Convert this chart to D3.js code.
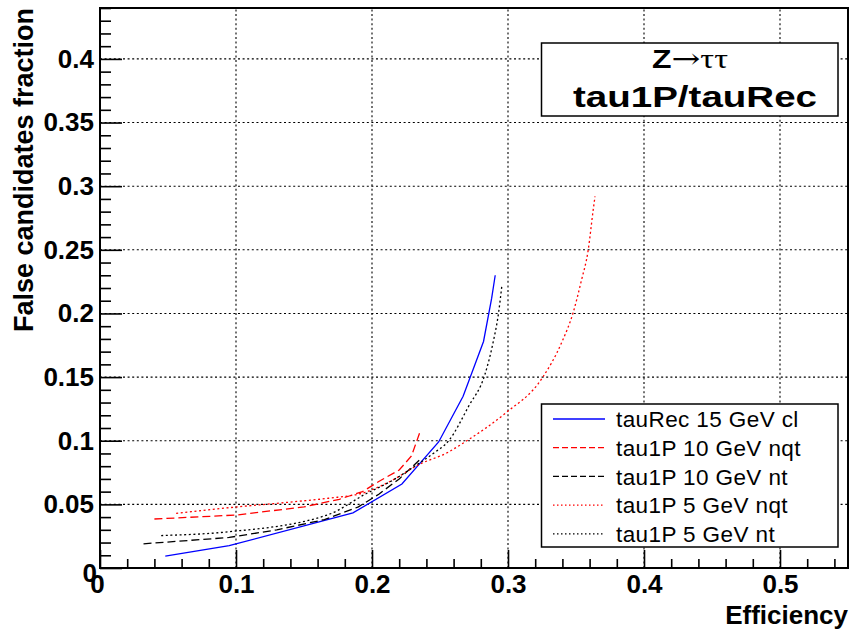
<!DOCTYPE html>
<html>
<head>
<meta charset="utf-8">
<script src="https://cdn.jsdelivr.net/npm/d3@7"></script>
<style>
  body { margin: 0; background: #fff; }
  svg { display: block; }
  text { font-family: "Liberation Sans", Arial, Helvetica, sans-serif; }
</style>
</head>
<body>
<svg id="chart" width="852" height="636"></svg>
<script>
// axis ticks
var xMajor = [0, 0.1, 0.2, 0.3, 0.4, 0.5];
var xLabels = ["0", "0.1", "0.2", "0.3", "0.4", "0.5"];
var yMajor = [0, 0.05, 0.1, 0.15, 0.2, 0.25, 0.3, 0.35, 0.4];
var yLabels = ["0", "0.05", "0.1", "0.15", "0.2", "0.25", "0.3", "0.35", "0.4"];

// curves: [efficiency, false candidates fraction]
var tauRec15cl = [[0.048, 0.0094], [0.095, 0.0175], [0.186, 0.0433], [0.222, 0.066],
    [0.249, 0.099], [0.267, 0.135], [0.282, 0.178], [0.288, 0.212], [0.2906, 0.230]];
var tau1P10nqt = [[0.040, 0.0385], [0.100, 0.0416], [0.150, 0.048], [0.176, 0.054],
    [0.193, 0.060], [0.205, 0.068], [0.220, 0.077], [0.229, 0.088], [0.235, 0.106]];
var tau1P10nt = [[0.032, 0.019], [0.095, 0.024], [0.130, 0.030], [0.165, 0.038],
    [0.190, 0.048], [0.205, 0.058], [0.220, 0.070], [0.236, 0.086]];
var tau1P5nqt = [[0.056, 0.043], [0.095, 0.0474], [0.147, 0.0525], [0.168, 0.0548],
    [0.195, 0.0595], [0.215, 0.069], [0.234, 0.081], [0.256, 0.091], [0.269, 0.0995],
    [0.298, 0.1216], [0.325, 0.149], [0.3394, 0.177], [0.348, 0.201], [0.354, 0.226],
    [0.359, 0.25], [0.3626, 0.281], [0.364, 0.292]];
var tau1P5nt = [[0.045, 0.0255], [0.095, 0.0285], [0.168, 0.042], [0.195, 0.058],
    [0.217, 0.070], [0.230, 0.079], [0.245, 0.090], [0.2564, 0.100], [0.271, 0.127],
    [0.283, 0.152], [0.289, 0.177], [0.293, 0.200], [0.2955, 0.222]];

var seriesNames = ["tauRec 15 GeV cl", "tau1P 10 GeV nqt", "tau1P 10 GeV nt",
    "tau1P 5 GeV nqt", "tau1P 5 GeV nt"];
var seriesData = [tauRec15cl, tau1P10nqt, tau1P10nt, tau1P5nqt, tau1P5nt];
var seriesColor = ["#0000ff", "#ff0000", "#000000", "#ff0000", "#000000"];
var seriesDash = [null, "8,4", "8,4", "2,2.6", "2,2.6"];

function drawChart() {
    var svg = d3.select("#chart");
    // frame edges (avoid window.top)
    var pL = 100, pR = 848, pT = 8, pB = 568;

    var x = d3.scaleLinear().domain([0, 0.55]).range([pL, pR]);
    var y = d3.scaleLinear().domain([0, 0.44]).range([pB, pT]);

    // minor ticks every 0.02 / 0.01
    var xMinor = d3.range(0, 0.5501, 0.02).filter(function (d) {
        return Math.abs(d * 10 - Math.round(d * 10)) > 1e-6;
    });
    var yMinor = d3.range(0, 0.4401, 0.01).filter(function (d) {
        return Math.abs(d * 20 - Math.round(d * 20)) > 1e-6;
    });

    // grid
    var grid = svg.append("g")
        .attr("stroke", "#000")
        .attr("stroke-width", 1.1)
        .attr("stroke-dasharray", "2,2.6");
    grid.selectAll(".gx").data(xMajor.slice(1)).enter().append("line")
        .attr("x1", function (d) { return x(d); })
        .attr("x2", function (d) { return x(d); })
        .attr("y1", pB).attr("y2", pT);
    grid.selectAll(".gy").data(yMajor.slice(1)).enter().append("line")
        .attr("y1", function (d) { return y(d); })
        .attr("y2", function (d) { return y(d); })
        .attr("x1", pL).attr("x2", pR);

    // curves: solid/dashed ones are piecewise, dotted ones have many points -> smooth
    var linePlain = d3.line()
        .x(function (d) { return x(d[0]); })
        .y(function (d) { return y(d[1]); });
    var lineSmooth = d3.line()
        .curve(d3.curveMonotoneX)
        .x(function (d) { return x(d[0]); })
        .y(function (d) { return y(d[1]); });

    svg.append("g").selectAll("path")
        .data(seriesData)
        .enter().append("path")
        .attr("d", function (d, i) { return i >= 3 ? lineSmooth(d) : linePlain(d); })
        .attr("fill", "none")
        .attr("stroke", function (d, i) { return seriesColor[i]; })
        .attr("stroke-width", 1.3)
        .attr("stroke-dasharray", function (d, i) { return seriesDash[i]; });

    // axes
    function styleAxis(g) {
        g.select(".domain").remove();
        g.selectAll(".tick line").attr("stroke", "#000").attr("stroke-width", 1.6);
        g.selectAll("text")
            .attr("fill", "#000")
            .style("font-size", "26px")
            .style("font-weight", "bold")
            .style("font-family", "'Liberation Sans', Arial, sans-serif");
    }

    svg.append("g")
        .attr("transform", "translate(0," + pB + ")")
        .call(d3.axisBottom(x).tickValues(xMinor).tickSizeInner(-9).tickSizeOuter(0).tickFormat(""))
        .call(styleAxis);
    var xAx = svg.append("g")
        .attr("transform", "translate(0," + pB + ")")
        .call(d3.axisBottom(x).tickValues(xMajor).tickSizeInner(-18).tickSizeOuter(0).tickPadding(7)
            .tickFormat(function (d, i) { return xLabels[i]; }))
        .call(styleAxis);
    xAx.selectAll(".tick text").filter(function (d) { return d === 0; }).attr("x", -3);

    svg.append("g")
        .attr("transform", "translate(" + pL + ",0)")
        .call(d3.axisLeft(y).tickValues(yMinor).tickSizeInner(-11).tickSizeOuter(0).tickFormat(""))
        .call(styleAxis);
    var yAx = svg.append("g")
        .attr("transform", "translate(" + pL + ",0)")
        .call(d3.axisLeft(y).tickValues(yMajor).tickSizeInner(-22).tickSizeOuter(0).tickPadding(6)
            .tickFormat(function (d, i) { return yLabels[i]; }))
        .call(styleAxis);
    yAx.selectAll(".tick text").filter(function (d) { return d === 0; })
        .attr("x", -3).attr("dy", "0.5em");

    // frame
    svg.append("rect")
        .attr("x", pL).attr("y", pT)
        .attr("width", pR - pL).attr("height", pB - pT)
        .attr("fill", "none").attr("stroke", "#000").attr("stroke-width", 2);

    // axis titles
    svg.append("text")
        .attr("x", pR).attr("y", 624)
        .attr("text-anchor", "end")
        .style("font-size", "26px").style("font-weight", "bold")
        .text("Efficiency");
    svg.append("text")
        .attr("transform", "translate(33," + pT + ") rotate(-90)")
        .attr("text-anchor", "end")
        .style("font-size", "27px").style("font-weight", "bold")
        .text("False candidates fraction");

    // title box
    svg.append("rect")
        .attr("x", 541.5).attr("y", 43).attr("width", 296.5).attr("height", 73)
        .attr("fill", "#fff").attr("stroke", "#000").attr("stroke-width", 1.5);
    var t1 = svg.append("text")
        .attr("x", 652).attr("y", 68)
        .attr("textLength", 76).attr("lengthAdjust", "spacingAndGlyphs")
        .style("font-size", "25px");
    t1.append("tspan").style("font-weight", "bold").text("Z");
    t1.append("tspan").style("font-family", "'DejaVu Serif', serif").style("font-size", "27px").text("\u2192");
    t1.append("tspan").style("font-family", "'Liberation Serif', serif").style("font-size", "27px").text("\u03c4\u03c4");
    svg.append("text")
        .attr("x", 573).attr("y", 107)
        .attr("textLength", 244).attr("lengthAdjust", "spacingAndGlyphs")
        .style("font-size", "29px").style("font-weight", "bold")
        .text("tau1P/tauRec");

    // legend
    svg.append("rect")
        .attr("x", 541.5).attr("y", 404).attr("width", 296.5).attr("height", 143)
        .attr("fill", "#fff").attr("stroke", "#000").attr("stroke-width", 1.5);
    var leg = svg.append("g").selectAll("g")
        .data(seriesNames)
        .enter().append("g")
        .attr("transform", function (d, i) { return "translate(0," + (419 + i * 28.7) + ")"; });
    leg.append("line")
        .attr("x1", 553).attr("x2", 605)
        .attr("stroke", function (d, i) { return seriesColor[i]; })
        .attr("stroke-width", 1.3)
        .attr("stroke-dasharray", function (d, i) { return seriesDash[i] ? (i < 3 ? "6,3" : "1.5,2.5") : null; });
    leg.append("text")
        .attr("x", 616).attr("dy", "0.36em")
        .style("font-size", "22.5px")
        .style("letter-spacing", "0.4px")
        .text(function (d) { return d; });
}

drawChart();
</script>
</body>
</html>
